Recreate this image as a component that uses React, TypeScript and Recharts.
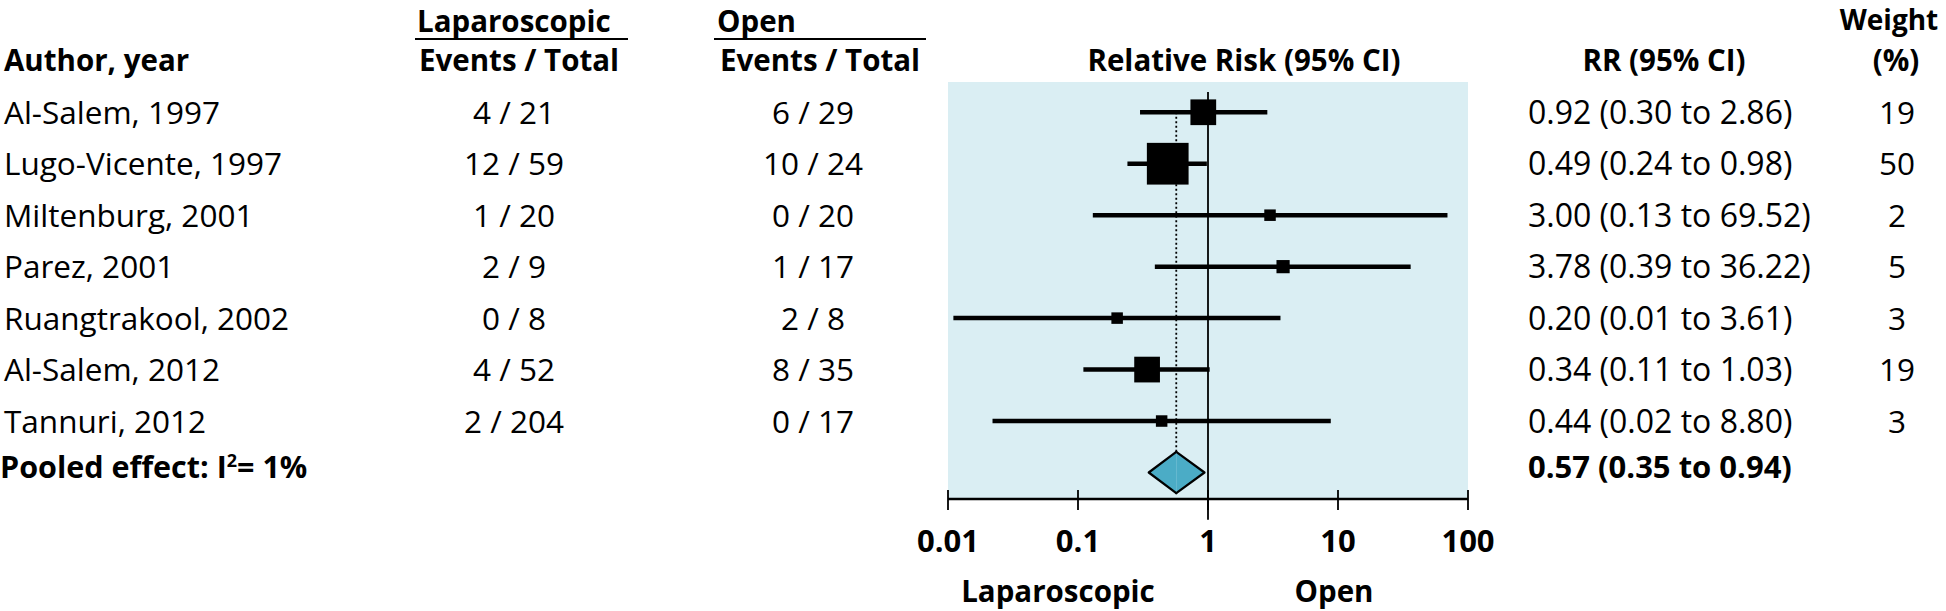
import React from 'react';
import {
  ComposedChart,
  Scatter,
  XAxis,
  YAxis,
  ErrorBar,
  ReferenceLine,
  ReferenceArea,
  CartesianGrid,
} from 'recharts';

// ---------- data ----------
const authors = [
  'Al-Salem, 1997',
  'Lugo-Vicente, 1997',
  'Miltenburg, 2001',
  'Parez, 2001',
  'Ruangtrakool, 2002',
  'Al-Salem, 2012',
  'Tannuri, 2012',
];
const lapEvents = [4, 12, 1, 2, 0, 4, 2];
const lapTotals = [21, 59, 20, 9, 8, 52, 204];
const openEvents = [6, 10, 0, 1, 2, 8, 0];
const openTotals = [29, 24, 20, 17, 8, 35, 17];
const relRisk = [0.92, 0.49, 3.0, 3.78, 0.2, 0.34, 0.44];
const ciLow = [0.3, 0.24, 0.13, 0.39, 0.011, 0.11, 0.022];
const ciHigh = [2.86, 0.98, 69.52, 36.22, 3.61, 1.03, 8.8];
const weights = [19, 50, 2, 5, 3, 19, 3];

const pooledRR = 0.57;
const pooledLow = 0.35;
const pooledHigh = 0.94;
const pooledI2 = 1;

const xTicks = [0.01, 0.1, 1, 10, 100];
const nullValue = 1;

// ---------- derived ----------
const pooledRow = authors.length;
const rowTicks = [...authors.map((_, i) => i), pooledRow];
const studyData = authors.map((_, i) => ({
  row: i,
  rr: relRisk[i],
  err: [relRisk[i] - ciLow[i], ciHigh[i] - relRisk[i]],
  weight: weights[i],
}));

// ---------- style ----------
const FONT = '"Open Sans", "Noto Sans", sans-serif';
const REG = 31.5;
const BOLD = 29.5;
const DIAMOND_HALF = 0.4;
const BLUE_BG = '#DAEEF3';
const DIAMOND_FILL = '#4BACC6';

const fmt2 = (v: number) => v.toFixed(2);
const ciText = (r: number, lo: number, hi: number) => `${fmt2(r)} (${fmt2(lo)} to ${fmt2(hi)})`;

const RowTick = (props: any) => {
  const { y, payload } = props;
  const i = payload.value as number;
  const by = y + 11.5;
  if (i < authors.length) {
    return (
      <g fontFamily={FONT} fill="#000">
        <text x={4} y={by} fontSize={REG}>{authors[i]}</text>
        <text x={514} y={by} fontSize={REG} textAnchor="middle">{`${lapEvents[i]} / ${lapTotals[i]}`}</text>
        <text x={813} y={by} fontSize={REG} textAnchor="middle">{`${openEvents[i]} / ${openTotals[i]}`}</text>
        <text x={1528} y={by} fontSize={32}>{ciText(relRisk[i], ciLow[i], ciHigh[i])}</text>
        <text x={1897} y={by} fontSize={REG} textAnchor="middle">{String(weights[i])}</text>
      </g>
    );
  }
  return (
    <g fontFamily={FONT} fill="#000" fontWeight="bold">
      <text x={0} y={by - 6} fontSize={30.5}>
        Pooled effect: I
        <tspan dy={-11} fontSize={18}>2</tspan>
        <tspan dy={11}>{`= ${pooledI2}%`}</tspan>
      </text>
      <text x={1528} y={by - 6} fontSize={31}>{ciText(pooledRR, pooledLow, pooledHigh)}</text>
    </g>
  );
};

const XTick = (props: any) => {
  const { x, y, payload } = props;
  return (
    <g>
      <line x1={x} x2={x} y1={y - 9} y2={y + 11} stroke="#000" strokeWidth={1.8} />
      <text x={x} y={y + 53} textAnchor="middle" fontFamily={FONT} fontWeight="bold" fontSize={31} fill="#000">
        {String(payload.value)}
      </text>
    </g>
  );
};

const Square = (p: any) => {
  const s = Math.max(11.5, 5.9 * Math.sqrt(p.payload.weight));
  return <rect x={p.cx - s / 2} y={p.cy - s / 2} width={s} height={s} fill="#000" />;
};

const LeftHalf = (p: any) => {
  const { x, y, width, height } = p;
  return (
    <g>
      <polygon points={`${x},${y + height / 2} ${x + width},${y} ${x + width},${y + height}`} fill={DIAMOND_FILL} />
      <polyline
        points={`${x + width},${y} ${x},${y + height / 2} ${x + width},${y + height}`}
        fill="none"
        stroke="#000"
        strokeWidth={2.2}
        strokeLinecap="round"
        strokeLinejoin="round"
      />
    </g>
  );
};

const RightHalf = (p: any) => {
  const { x, y, width, height } = p;
  return (
    <g>
      <polygon points={`${x},${y} ${x + width},${y + height / 2} ${x},${y + height}`} fill={DIAMOND_FILL} />
      <polyline
        points={`${x},${y} ${x + width},${y + height / 2} ${x},${y + height}`}
        fill="none"
        stroke="#000"
        strokeWidth={2.2}
        strokeLinecap="round"
        strokeLinejoin="round"
      />
    </g>
  );
};

const Headers = () => (
  <g fontFamily={FONT} fontWeight="bold" fontSize={BOLD} fill="#000">
    <text x={4} y={71}>Author, year</text>
    <text x={417} y={32}>Laparoscopic</text>
    <line x1={415} x2={628} y1={39} y2={39} stroke="#000" strokeWidth={2} />
    <text x={519} y={71} textAnchor="middle">Events / Total</text>
    <text x={717} y={32}>Open</text>
    <line x1={714} x2={926} y1={39} y2={39} stroke="#000" strokeWidth={2} />
    <text x={820} y={71} textAnchor="middle">Events / Total</text>
    <text x={1244} y={71} textAnchor="middle">Relative Risk (95% CI)</text>
    <text x={1664} y={71} textAnchor="middle">RR (95% CI)</text>
    <text x={1889} y={30} textAnchor="middle" fontSize={28}>Weight</text>
    <text x={1896} y={71} textAnchor="middle">(%)</text>
    <text x={1058} y={602} textAnchor="middle">Laparoscopic</text>
    <text x={1334} y={602} textAnchor="middle">Open</text>
  </g>
);

export default function App() {
  return (
    <div style={{ position: 'absolute', left: 0, top: 0, width: 1946, height: 611, background: '#fff' }}>
      <ComposedChart width={1946} height={611} margin={{ top: 82, right: 478, bottom: 0, left: 0 }}>
        <CartesianGrid yAxisId="left" horizontal={false} vertical={false} fill={BLUE_BG} />
        <XAxis
          dataKey="rr"
          type="number"
          scale="log"
          domain={[0.01, 100]}
          ticks={xTicks}
          allowDataOverflow
          interval={0}
          height={112}
          axisLine={{ stroke: '#000', strokeWidth: 2.5 }}
          tickLine={false}
          tickSize={0}
          tickMargin={0}
          tick={<XTick />}
        />
        <YAxis
          yAxisId="left"
          dataKey="row"
          type="number"
          domain={[-0.588, 7.515]}
          reversed
          allowDataOverflow
          ticks={rowTicks}
          interval={0}
          width={948}
          axisLine={false}
          tickLine={false}
          tick={<RowTick />}
        />
        <ReferenceLine
          yAxisId="left"
          ifOverflow="visible"
          segment={[{ x: nullValue, y: -0.394 }, { x: nullValue, y: 7.92 }]}
          stroke="#000"
          strokeWidth={1.8}
        />
        <ReferenceLine
          yAxisId="left"
          segment={[{ x: pooledRR, y: 0 }, { x: pooledRR, y: pooledRow - DIAMOND_HALF }]}
          stroke="#000"
          strokeWidth={1.8}
          strokeDasharray="2 2.5"
        />
        <ReferenceArea
          yAxisId="left"
          x1={pooledLow}
          x2={pooledRR}
          y1={pooledRow - DIAMOND_HALF}
          y2={pooledRow + DIAMOND_HALF}
          shape={LeftHalf}
        />
        <ReferenceArea
          yAxisId="left"
          x1={pooledRR}
          x2={pooledHigh}
          y1={pooledRow - DIAMOND_HALF}
          y2={pooledRow + DIAMOND_HALF}
          shape={RightHalf}
        />
        <Scatter yAxisId="left" data={studyData} shape={Square} isAnimationActive={false}>
          <ErrorBar dataKey="err" direction="x" width={0} stroke="#000" strokeWidth={4.5} isAnimationActive={false} />
        </Scatter>
        <Headers />
      </ComposedChart>
    </div>
  );
}
